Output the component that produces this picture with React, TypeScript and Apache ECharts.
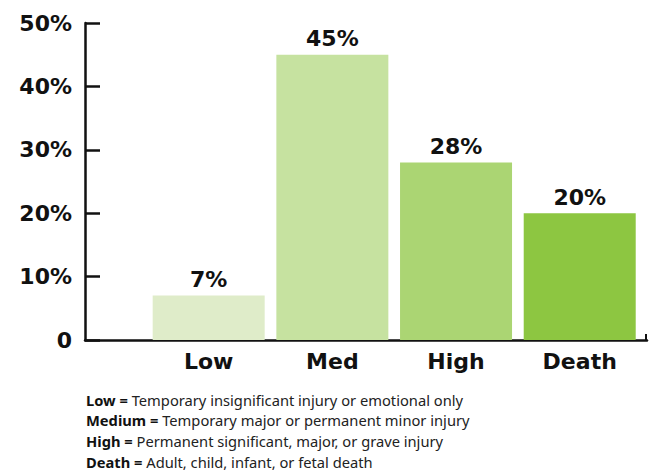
import React, { useEffect, useRef } from "react";
import * as echarts from "echarts";

const categories = ["Low", "Med", "High", "Death"];
const values = [7, 45, 28, 20];
const barColors = ["#dfecc9", "#c6e2a0", "#abd573", "#8dc641"];
const yTicks = [0, 10, 20, 30, 40, 50];
const notes: [string, string][] = [
  ["Low =", "Temporary insignificant injury or emotional only"],
  ["Medium =", "Temporary major or permanent minor injury"],
  ["High =", "Permanent significant, major, or grave injury"],
  ["Death =", "Adult, child, infant, or fetal death"],
];

export default function App() {
  const ref = useRef<HTMLDivElement>(null);
  useEffect(() => {
    if (!ref.current) return;
    const chart = echarts.init(ref.current, undefined, { renderer: "svg" });
    const labelFont = '"DejaVu Sans", sans-serif';
    const noteFont = '"Noto Sans", sans-serif';
    const axisColor = "#111111";
    const xMax = 4.544;
    chart.setOption({
      animation: false,
      grid: { left: 85, right: 6, top: 23, bottom: 132, containLabel: false },
      xAxis: {
        type: "value",
        min: 0,
        max: xMax,
        interval: 1,
        splitLine: { show: false },
        axisLine: { show: true, lineStyle: { color: axisColor, width: 2.5 } },
        axisTick: {
          show: true,
          inside: true,
          length: 6,
          customValues: [4.53],
          lineStyle: { color: axisColor, width: 2 },
        },
        axisLabel: {
          show: true,
          margin: 10,
          color: axisColor,
          fontFamily: labelFont,
          fontWeight: "bold",
          fontSize: 22,
          showMaxLabel: false,
          formatter: (v: number) => {
            const i = Math.round(v) - 1;
            return Math.abs(v - Math.round(v)) < 1e-6 && i >= 0 && i < categories.length ? categories[i] : "";
          },
        },
      },
      yAxis: {
        type: "value",
        min: 0,
        max: 50,
        interval: 10,
        splitLine: { show: false },
        axisLine: { show: true, lineStyle: { color: axisColor, width: 2.5 } },
        axisTick: { show: true, inside: true, length: 15, lineStyle: { color: axisColor, width: 2.5 } },
        axisLabel: {
          margin: 13,
          color: axisColor,
          fontFamily: labelFont,
          fontWeight: "bold",
          fontSize: 22,
          formatter: (v: number) => (yTicks.includes(v) ? (v === 0 ? "0" : v + "%") : ""),
        },
      },
      series: [
        {
          type: "bar",
          barWidth: 112,
          data: values.map((v, i) => ({
            value: [i + 1, v],
            itemStyle: { color: barColors[i] },
          })),
          label: {
            show: true,
            position: "top",
            distance: 5,
            color: axisColor,
            fontFamily: labelFont,
            fontWeight: "bold",
            fontSize: 22,
            formatter: (p: any) => p.value[1] + "%",
          },
        },
      ],
      graphic: notes.map((n, i) => ({
        type: "text",
        left: 86,
        top: 392 + i * 20.8,
        style: {
          text: `{b|${n[0]}} ${n[1]}`,
          fontFamily: noteFont,
          fontSize: 14.7,
          fill: "#222222",
          rich: {
            b: { fontFamily: noteFont, fontSize: 14.7, fontWeight: "bold", fill: "#111111" },
          },
        },
      })),
    });
    return () => chart.dispose();
  }, []);
  return (
    <div
      ref={ref}
      style={{ position: "fixed", left: 0, top: 0, width: 653, height: 472, background: "#ffffff" }}
    />
  );
}
